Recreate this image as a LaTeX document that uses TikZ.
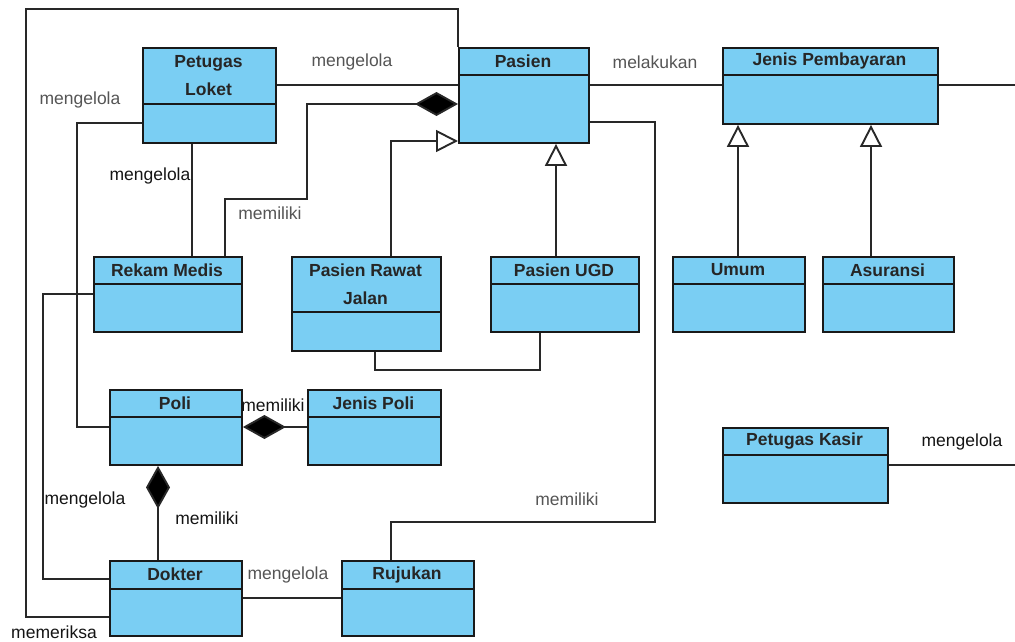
\documentclass[tikz,border=0pt]{standalone}
\usepackage{fontspec}
\setmainfont{Liberation Sans}
\usetikzlibrary{arrows.meta}

\definecolor{classfill}{RGB}{122,206,243}
\definecolor{wire}{RGB}{40,40,40}
\definecolor{softlabel}{RGB}{85,85,85}
\definecolor{darklabel}{RGB}{20,20,20}

\tikzset{
  classbox/.style={draw=black!90, line width=1.9pt, fill=classfill, rectangle, inner sep=0pt},
  classline/.style={draw=black!90, line width=1.9pt},
  classtitle/.style={font=\bfseries\fontsize{17.5}{28}\selectfont, align=center, inner sep=0pt, text=black!85},
  assoc/.style={draw=wire, line width=1.9pt},
  compose/.style={assoc, {Diamond[length=43pt,width=24pt,fill=black]}-},
  inherit/.style={assoc, -{Triangle[open,length=22pt,width=22pt,fill=white]}},
  rolegray/.style={font=\fontsize{17.5}{20}\selectfont, text=softlabel, inner sep=0pt},
  roleblack/.style={font=\fontsize{17.5}{20}\selectfont, text=darklabel, inner sep=0pt},
}

% class box: name, left, top, right, bottom, divider, title
\newcommand{\umlclass}[7]{%
  \node[classbox, anchor=north west, minimum width={(#4-#2)*1pt}, minimum height={(#5-#3)*1pt}] (#1) at (#2,#3) {};
  \draw[classline] (#1.west |- 0,#6) -- (#1.east |- 0,#6);
  \node[classtitle] at ({(#2+#4)/2},{(#3+#6)/2}) {#7};
}

\begin{document}
\begin{tikzpicture}[x=1pt,y=-1pt]
\useasboundingbox (0,0) rectangle (1015,642);

% classes
\umlclass{loket}{142}{47}{275}{142}{104}{Petugas\\Loket}
\umlclass{pasien}{458}{47}{588}{142}{75}{Pasien}
\umlclass{bayar}{722}{47}{937}{123}{75}{Jenis Pembayaran}
\umlclass{rekam}{93}{256}{241}{331}{284}{Rekam Medis}
\umlclass{rawat}{291}{256}{440}{350}{312}{Pasien Rawat\\Jalan}
\umlclass{ugd}{490}{256}{638}{331}{284}{Pasien UGD}
\umlclass{umum}{672}{256}{804}{331}{284}{Umum}
\umlclass{asuransi}{822}{256}{953}{331}{284}{Asuransi}
\umlclass{poli}{109}{389}{241}{464}{417}{Poli}
\umlclass{jpoli}{307}{389}{440}{464}{417}{Jenis Poli}
\umlclass{kasir}{722}{427}{887}{502}{455}{Petugas Kasir}
\umlclass{dokter}{109}{560}{241}{635}{589}{Dokter}
\umlclass{rujukan}{341}{560}{473}{635}{589}{Rujukan}

% free ends leaving the sheet
\coordinate (bayarout) at (1015,85);
\coordinate (kasirout) at (1015,465);

% associations
\draw[assoc] (pasien.north west) -- ++(0,-38) -| (26,617) -- (dokter.west |- 0,617);
\draw[assoc] (loket.east |- 0,85) -- (pasien.west |- 0,85);
\draw[assoc] (pasien.east |- 0,85) -- (bayar.west |- 0,85);
\draw[assoc] (bayar.east |- 0,85) -- (bayarout);
\draw[assoc] (kasir.east |- 0,465) -- (kasirout);
\draw[assoc] (pasien.east |- 0,122) -| (655,522) -| (rujukan.north -| 391,0);
\draw[assoc] (loket.south -| 192,0) -- (rekam.north -| 192,0);
\draw[assoc] (loket.west |- 0,123) -| (77,427) -- (poli.west |- 0,427);
\draw[assoc] (rekam.west |- 0,294) -| (43,579) -- (dokter.west |- 0,579);
\draw[assoc] (dokter.east |- 0,598) -- (rujukan.west |- 0,598);
\draw[assoc] (rawat.south -| 375,0) -- (375,370) -- (540,370) -- (ugd.south -| 540,0);

% compositions
\draw[compose] (pasien.west |- 0,104) -- (307,104) -- (307,199) -- (225,199) -- (rekam.north -| 225,0);
\draw[compose] (poli.east |- 0,427) -- (jpoli.west |- 0,427);
\draw[compose] (poli.south -| 158,0) -- (dokter.north -| 158,0);

% generalizations
\draw[inherit] (rawat.north -| 391,0) |- (pasien.west |- 0,141);
\draw[inherit] (ugd.north -| 556,0) -- (pasien.south -| 556,0);
\draw[inherit] (umum.north -| 738,0) -- (bayar.south -| 738,0);
\draw[inherit] (asuransi.north -| 871,0) -- (bayar.south -| 871,0);

% role names
\node[rolegray] at (352,62) {mengelola};
\node[rolegray] at (80,100) {mengelola};
\node[roleblack] at (150,176) {mengelola};
\node[rolegray] at (270,213) {memiliki};
\node[rolegray] at (655,62) {melakukan};
\node[rolegray] at (567,499) {memiliki};
\node[roleblack] at (962,442) {mengelola};
\node[roleblack] at (273,405) {memiliki};
\node[roleblack] at (85,500) {mengelola};
\node[roleblack] at (207,518) {memiliki};
\node[rolegray] at (288,575) {mengelola};
\node[roleblack] at (54,632) {memeriksa};
\end{tikzpicture}
\end{document}
